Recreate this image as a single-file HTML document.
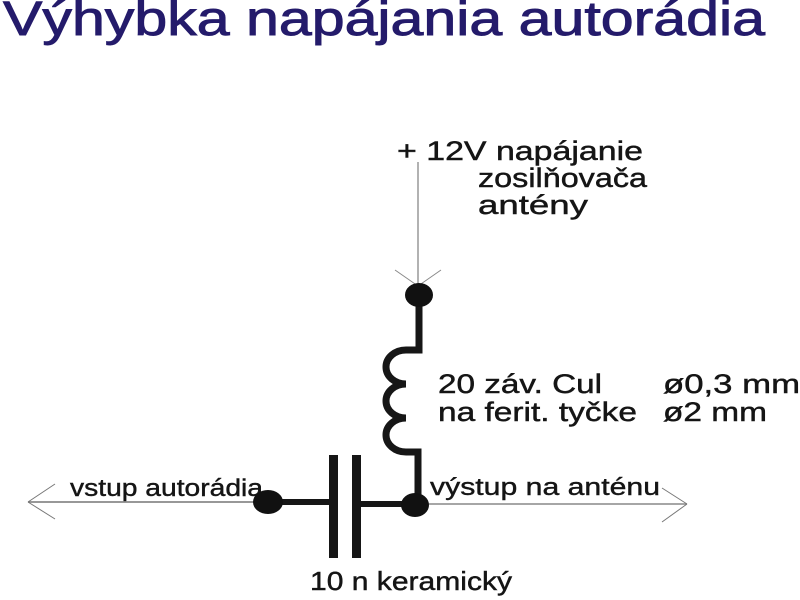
<!DOCTYPE html>
<html>
<head>
<meta charset="utf-8">
<style>
  html,body{margin:0;padding:0;background:#fff;}
  svg{display:block;}
  text{font-family:"Liberation Sans",Arial,sans-serif;}
</style>
</head>
<body>
<svg width="800" height="600" viewBox="0 0 800 600" xmlns="http://www.w3.org/2000/svg">
  <rect width="800" height="600" fill="#fff"/>

  <!-- Title -->
  <text x="3" y="35" font-size="48" fill="#241b6b" stroke="#241b6b" stroke-width="0.9" textLength="762" lengthAdjust="spacingAndGlyphs">Výhybka napájania autorádia</text>

  <!-- Top supply label -->
  <g fill="#151515" stroke="#151515" stroke-width="0.45" font-size="27">
    <text x="397" y="160" textLength="246" lengthAdjust="spacingAndGlyphs">+ 12V napájanie</text>
    <text x="478" y="187" textLength="169" lengthAdjust="spacingAndGlyphs">zosilňovača</text>
    <text x="478" y="214" textLength="110" lengthAdjust="spacingAndGlyphs">antény</text>
  </g>

  <!-- Coil label -->
  <g fill="#151515" stroke="#151515" stroke-width="0.45" font-size="27">
    <text x="438" y="393" textLength="164" lengthAdjust="spacingAndGlyphs">20 záv. Cul</text>
    <text x="663" y="393" textLength="137" lengthAdjust="spacingAndGlyphs">ø0,3 mm</text>
    <text x="438" y="421" textLength="199" lengthAdjust="spacingAndGlyphs">na ferit. tyčke</text>
    <text x="663" y="421" textLength="104" lengthAdjust="spacingAndGlyphs">ø2 mm</text>
  </g>

  <!-- Input/output labels -->
  <g fill="#151515" stroke="#151515" stroke-width="0.4" font-size="24">
    <text x="70" y="496" textLength="193" lengthAdjust="spacingAndGlyphs">vstup autorádia</text>
    <text x="430" y="495" textLength="230" lengthAdjust="spacingAndGlyphs">výstup na anténu</text>
  </g>
  <text x="310" y="590" font-size="26" fill="#151515" stroke="#151515" stroke-width="0.45" textLength="202" lengthAdjust="spacingAndGlyphs">10 n keramický</text>

  <!-- Thin top supply line with arrowhead -->
  <line x1="418" y1="162" x2="418" y2="292" stroke="#999" stroke-width="1.5"/>
  <line x1="395" y1="270" x2="418" y2="286" stroke="#888" stroke-width="1"/>
  <line x1="441" y1="270" x2="418" y2="286" stroke="#888" stroke-width="1"/>

  <!-- Thin horizontal lines with arrowheads -->
  <line x1="28" y1="502" x2="268" y2="502" stroke="#777" stroke-width="1.5"/>
  <line x1="28" y1="502" x2="55" y2="484" stroke="#777" stroke-width="1"/>
  <line x1="28" y1="502" x2="55" y2="519" stroke="#777" stroke-width="1"/>

  <line x1="415" y1="504" x2="687" y2="504" stroke="#888" stroke-width="1.5"/>
  <line x1="687" y1="504" x2="662" y2="488" stroke="#777" stroke-width="1"/>
  <line x1="687" y1="504" x2="662" y2="522" stroke="#777" stroke-width="1"/>

  <!-- Coil and wires -->
  <path d="M419,295 V350 H406
           A20,17 0 0 0 406,384
           A20,17 0 0 0 406,418
           A20,17 0 0 0 406,452
           H418 V504"
        fill="none" stroke="#161616" stroke-width="7" stroke-linejoin="miter" stroke-miterlimit="3"/>

  <!-- Capacitor wires -->
  <line x1="268" y1="502" x2="333" y2="502" stroke="#161616" stroke-width="6"/>
  <line x1="356" y1="504" x2="416" y2="504" stroke="#161616" stroke-width="6"/>

  <!-- Capacitor plates -->
  <rect x="329" y="455" width="9" height="103" fill="#161616"/>
  <rect x="352" y="455" width="9" height="103" fill="#161616"/>

  <!-- Dots -->
  <ellipse cx="419" cy="295" rx="14" ry="12" fill="#111"/>
  <ellipse cx="268" cy="502" rx="15" ry="12" fill="#111"/>
  <ellipse cx="415" cy="505" rx="14" ry="12" fill="#111"/>
</svg>
</body>
</html>
